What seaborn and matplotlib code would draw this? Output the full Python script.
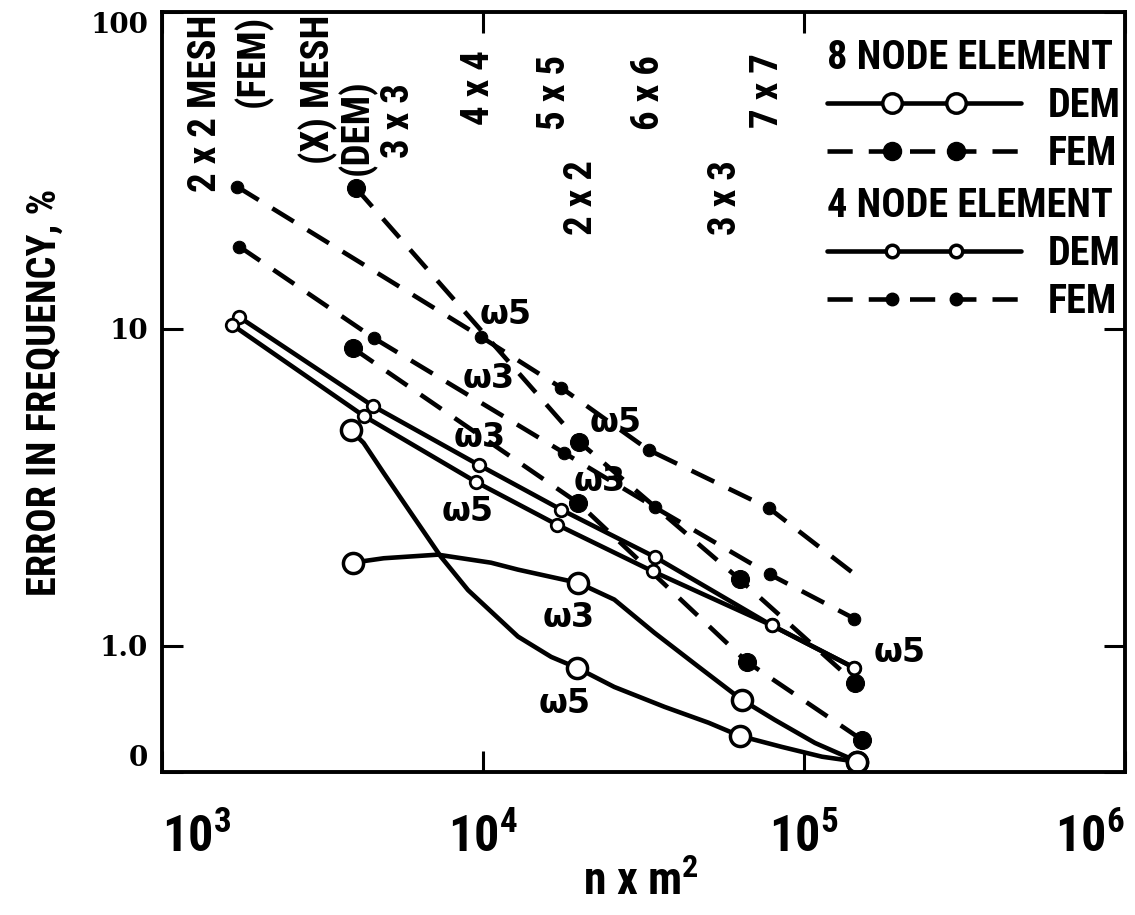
import seaborn as sns
import matplotlib.pyplot as plt
from matplotlib import font_manager
from matplotlib.lines import Line2D
from matplotlib.legend_handler import HandlerLine2D

sns.set_style('white', {'text.color': 'black', 'axes.labelcolor': 'black', 'xtick.color': 'black',
                        'ytick.color': 'black', 'axes.edgecolor': 'black'})
available = {f.name for f in font_manager.fontManager.ttflist}
narrow = next((f for f in ['Liberation Sans Narrow', 'Roboto Condensed', 'Open Sans Condensed', 'Roboto']
               if f in available), 'DejaVu Sans')
plt.rcParams['font.family'] = [narrow, 'DejaVu Sans']
plt.rcParams['mathtext.fontset'] = 'custom'
plt.rcParams['mathtext.rm'] = narrow
plt.rcParams['mathtext.bf'] = narrow + ':bold'

# 8 node element, DEM (solid curves, big open circles at the mesh points only)
dem8_w3_x = [3925, 4905, 7230, 10590, 12850, 16310, 19830, 25640, 34200, 46950, 64000, 81100, 108200, 138200, 146500]
dem8_w3_y = [1.83, 1.89, 1.94, 1.83, 1.74, 1.65, 1.58, 1.40, 1.10, 0.859, 0.676, 0.584, 0.494, 0.443, 0.431]
dem8_w3_marks = [0, 6, 10, 14]

dem8_w5_x = [3868, 4246, 4905, 5957, 7396, 8980, 12850, 16310, 19660, 25640, 36780, 50470, 63100, 85300, 113800, 146500]
dem8_w5_y = [4.80, 4.37, 3.51, 2.63, 1.91, 1.50, 1.07, 0.923, 0.852, 0.742, 0.642, 0.572, 0.520, 0.480, 0.447, 0.431]
dem8_w5_marks = [0, 8, 12, 15]

# 8 node element, FEM (dashed, big filled circles)
fem8_w5_x = [4010, 19950, 63100, 144300]
fem8_w5_y = [27.9, 4.40, 1.62, 0.764]
fem8_w3_x = [3925, 19830, 66340, 151700]
fem8_w3_y = [8.71, 2.82, 0.891, 0.505]

# 4 node element, DEM (solid, small open circles)
dem4_w3_x = [1740, 4530, 9716, 17530, 34220, 79430, 143300]
dem4_w3_y = [10.9, 5.72, 3.72, 2.69, 1.91, 1.16, 0.853]
dem4_w5_x = [1655, 4246, 9510, 17030, 33740, 79430, 143300]
dem4_w5_y = [10.3, 5.32, 3.29, 2.41, 1.72, 1.16, 0.853]

# 4 node element, FEM (dashed, small dots) - last w5 point drawn without a dot
fem4_w5_x = [1715, 9860, 17530, 32810, 77800, 147500]
fem4_w5_y = [28.1, 9.44, 6.52, 4.15, 2.72, 1.65]
fem4_w3_x = [1740, 4560, 17920, 34220, 78300, 143300]
fem4_w3_y = [18.2, 9.37, 4.06, 2.74, 1.68, 1.22]

# mesh labels along the top: (text, x, top of text in axes fraction)
mesh_labels = [('2 x 2 MESH', 1362, 0.996), ('(FEM)', 1924, 0.996), ('(X) MESH', 3073, 0.996),
               ('(DEM)', 4040, 0.911), ('3 x 3', 5464, 0.907), ('4 x 4', 9716, 0.95),
               ('5 x 5', 16680, 0.943), ('2 x 2', 20240, 0.805), ('6 x 6', 32810, 0.943),
               ('3 x 3', 57040, 0.805), ('7 x 7', 77180, 0.946)]

# omega labels beside the curves
omega_labels = [('ω5', 11800, 11.1), ('ω3', 10380, 7.0), ('ω3', 9790, 4.53), ('ω5', 25850, 5.05),
                ('ω3', 23040, 3.29), ('ω5', 8975, 2.65), ('ω3', 18440, 1.225), ('ω5', 17910, 0.656),
                ('ω5', 198000, 0.951)]

fig = plt.figure(figsize=(11.35, 9.15), dpi=100)
ax = fig.add_axes([162 / 1135, 1 - 772 / 915, 963 / 1135, 760 / 915])
ax.set_xscale('log')
ax.set_yscale('log')

common = dict(ax=ax, color='black', lw=3.3, sort=False, estimator=None, errorbar=None)
dashed = (0, (5.5, 3.5))

sns.lineplot(x=dem8_w3_x, y=dem8_w3_y, marker='o', markevery=dem8_w3_marks, ms=14.5,
             mfc='white', mec='black', mew=2.5, **common)
sns.lineplot(x=dem8_w5_x, y=dem8_w5_y, marker='o', markevery=dem8_w5_marks, ms=14.5,
             mfc='white', mec='black', mew=2.5, **common)
for xs, ys in [(fem8_w5_x, fem8_w5_y), (fem8_w3_x, fem8_w3_y)]:
    sns.lineplot(x=xs, y=ys, marker='o', ms=13, mfc='black', mec='black', linestyle=dashed, **common)
for xs, ys in [(dem4_w3_x, dem4_w3_y), (dem4_w5_x, dem4_w5_y)]:
    sns.lineplot(x=xs, y=ys, marker='o', ms=9, mfc='white', mec='black', mew=2, **common)
sns.lineplot(x=fem4_w5_x, y=fem4_w5_y, marker='o', ms=9, mfc='black', mec='black',
             markevery=list(range(len(fem4_w5_x) - 1)), linestyle=dashed, **common)
sns.lineplot(x=fem4_w3_x, y=fem4_w3_y, marker='o', ms=9, mfc='black', mec='black',
             linestyle=dashed, **common)

ax.set_xlim(1e3, 1e6)
ax.set_ylim(0.4, 100)
ax.set_xticks([1e3, 1e4, 1e5, 1e6])
ax.set_xticklabels([r'$\mathbf{10^{3}}$', r'$\mathbf{10^{4}}$', r'$\mathbf{10^{5}}$', r'$\mathbf{10^{6}}$'],
                   fontsize=36)
xlabels = ax.get_xticklabels()
xlabels[0].set_ha('left')
xlabels[-1].set_ha('right')
ax.set_yticks([0.4, 1, 10, 100])
ax.set_yticklabels(['0', '1.0', '10', '100'], fontsize=20, fontweight='bold', family='DejaVu Serif')
ylabels = ax.get_yticklabels()
ylabels[0].set_va('bottom')
ylabels[-1].set_va('top')
ax.minorticks_off()
ax.tick_params(direction='in', length=15, width=2.2, bottom=True, left=True, top=True, right=True)
ax.tick_params(axis='x', pad=30)
ax.tick_params(axis='y', pad=10)
for sp in ax.spines.values():
    sp.set_linewidth(2.8)

ax.set_ylabel('ERROR IN FREQUENCY, %', fontsize=29, fontweight='bold')
ax.yaxis.set_label_coords(-0.102, 0.5)
ax.set_xlabel(r'n x m$^{\mathbf{2}}$', fontsize=33, fontweight='bold')
ax.xaxis.set_label_coords(0.497, -0.115)

for txt, x, y in mesh_labels:
    ax.text(x, y, txt, transform=ax.get_xaxis_transform(), rotation=90, ha='center', va='top',
            fontsize=28, fontweight='bold')
for txt, x, y in omega_labels:
    ax.text(x, y, txt, ha='center', va='center', fontsize=24, fontweight='bold', family='DejaVu Sans')

# legend: two blocks with a bold heading each
hl = 4.8


def legend_entry(ls, ms, filled, mew):
    line = Line2D([], [], color='black', lw=3.3, linestyle=ls)
    dots = Line2D([], [], linestyle='none', marker='o', ms=ms, mfc='black' if filled else 'white',
                  mec='black', mew=mew)
    return (line, dots), {line: HandlerLine2D(marker_pad=0), dots: HandlerLine2D(marker_pad=hl / 3)}


def node_legend(title, big, anchor):
    ms = 14 if big else 9
    h1, m1 = legend_entry('-', ms, False, 2.5)
    h2, m2 = legend_entry(dashed, ms - 1 if big else ms, True, 1)
    hmap = {**m1, **m2}
    return ax.legend([h1, h2], ['DEM', 'FEM'], handler_map=hmap, numpoints=2, handlelength=hl,
                     loc='upper left', bbox_to_anchor=anchor, frameon=False, borderpad=0,
                     borderaxespad=0, handletextpad=0.68, labelspacing=0.25, alignment='left',
                     title=title, prop={'weight': 'bold', 'size': 29},
                     title_fontproperties={'weight': 'bold', 'size': 29})


leg1 = node_legend('8 NODE ELEMENT', True, (0.691, 0.965))
ax.add_artist(leg1)
node_legend('4 NODE ELEMENT', False, (0.691, 0.77))

fig.savefig('out.png', dpi=100)
